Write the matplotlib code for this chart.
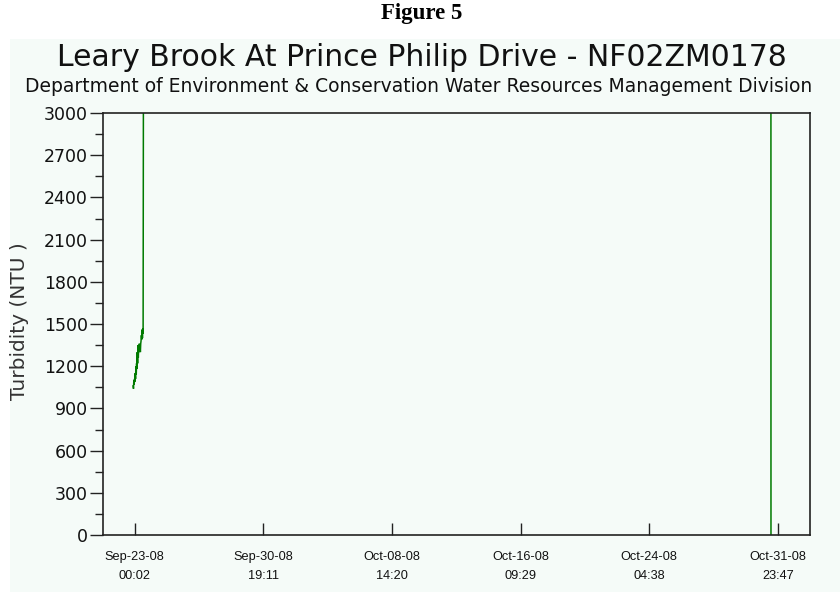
import matplotlib
matplotlib.use("Agg")
import matplotlib.pyplot as plt
import matplotlib.dates as mdates
from matplotlib.patches import Rectangle
from matplotlib.ticker import MultipleLocator, FixedLocator, FixedFormatter
from datetime import datetime

# Turbidity record (NTU); values above 3000 run off the top of the scale
times = [
    "2008-09-22 22:00", "2008-09-22 22:30", "2008-09-22 23:00", "2008-09-22 23:30",
    "2008-09-23 00:00", "2008-09-23 00:30", "2008-09-23 01:00", "2008-09-23 01:30",
    "2008-09-23 02:00", "2008-09-23 02:30", "2008-09-23 03:00", "2008-09-23 03:30",
    "2008-09-23 04:00", "2008-09-23 04:30", "2008-09-23 05:00", "2008-09-23 05:30",
    "2008-09-23 06:00", "2008-09-23 06:30", "2008-09-23 07:00", "2008-09-23 07:30",
    "2008-09-23 08:00", "2008-09-23 08:30", "2008-09-23 09:00", "2008-09-23 09:30",
    "2008-09-23 10:00", "2008-09-23 10:30", "2008-09-23 11:00", "2008-09-23 11:30",
    "2008-09-23 12:00", "2008-09-23 12:30", "2008-09-23 13:00",
    "2008-10-31 13:30", "2008-10-31 13:35",
]
turbidity = [
    1060, 1040, 1100, 1070,
    1110, 1090, 1150, 1110,
    1200, 1140, 1220, 1180,
    1300, 1220, 1350, 1260,
    1330, 1300, 1360, 1310,
    1340, 1300, 1360, 1380,
    1420, 1390, 1460, 1400,
    1470, 1430, 3400,
    3400, 0,
]

tick_times = [
    "2008-09-23 00:02", "2008-09-30 19:11", "2008-10-08 14:20",
    "2008-10-16 09:29", "2008-10-24 04:38", "2008-10-31 23:47",
]
tick_labels = [
    "Sep-23-08\n00:02", "Sep-30-08\n19:11", "Oct-08-08\n14:20",
    "Oct-16-08\n09:29", "Oct-24-08\n04:38", "Oct-31-08\n23:47",
]
x_start = "2008-09-21 02:10"
x_end = "2008-11-02 22:20"

fmt = "%Y-%m-%d %H:%M"
t = [datetime.strptime(s, fmt) for s in times]
tick_pos = mdates.date2num([datetime.strptime(s, fmt) for s in tick_times])

panel = "#f5fbf8"
ink = "#222222"
plt.rcParams["font.family"] = ["DejaVu Sans"]

fig = plt.figure(figsize=(8.4, 5.92), dpi=100, facecolor="white")
fig.patches.append(Rectangle((10 / 840, 0), 1 - 10 / 840, 1 - 39 / 592,
                             transform=fig.transFigure, facecolor=panel,
                             edgecolor="none", zorder=-10))

ax = fig.add_axes([103 / 840, 1 - 535 / 592, (810 - 103) / 840, (535 - 113) / 592])
ax.set_facecolor(panel)

ax.plot(t, turbidity, color="#007a00", lw=1.1, solid_joinstyle="miter")

ax.set_ylim(0, 3000)
ax.set_xlim(datetime.strptime(x_start, fmt), datetime.strptime(x_end, fmt))

ax.yaxis.set_major_locator(MultipleLocator(300))
ax.yaxis.set_minor_locator(MultipleLocator(150))
ax.tick_params(axis="y", which="major", direction="out", length=9.5, width=1,
               pad=1.5, labelsize=12.5, color=ink, labelcolor="#111111")
ax.tick_params(axis="y", which="minor", direction="out", length=5.5, width=1,
               color=ink)

ax.xaxis.set_major_locator(FixedLocator(tick_pos))
ax.xaxis.set_major_formatter(FixedFormatter(tick_labels))
ax.tick_params(axis="x", which="major", direction="in", length=9, width=1,
               pad=11.5, color=ink)
for lbl in ax.get_xticklabels():
    lbl.set_family(["Liberation Sans", "DejaVu Sans"])
    lbl.set_fontsize(9.2)
    lbl.set_linespacing(1.75)
    lbl.set_color("#111111")

for s in ax.spines.values():
    s.set_color(ink)
    s.set_linewidth(1.2)

fig.text(0.502, 1 - 13 / 592, "Figure 5", ha="center", va="center",
         fontsize=16.5, fontweight="bold", family=["Liberation Serif", "DejaVu Serif"])
fig.text(0.502, 1 - 57 / 592, "Leary Brook At Prince Philip Drive - NF02ZM0178",
         ha="center", va="center", fontsize=21.5, color="#111111")
fig.text(0.498, 1 - 87 / 592,
         "Department of Environment & Conservation Water Resources Management Division",
         ha="center", va="center", fontsize=13.5, color="#111111")
fig.text(20 / 840, 1 - 321 / 592, "Turbidity (NTU )", rotation=90,
         ha="center", va="center", fontsize=14.5, color="#333333")

fig.savefig("out.png", dpi=100, facecolor=fig.get_facecolor())
